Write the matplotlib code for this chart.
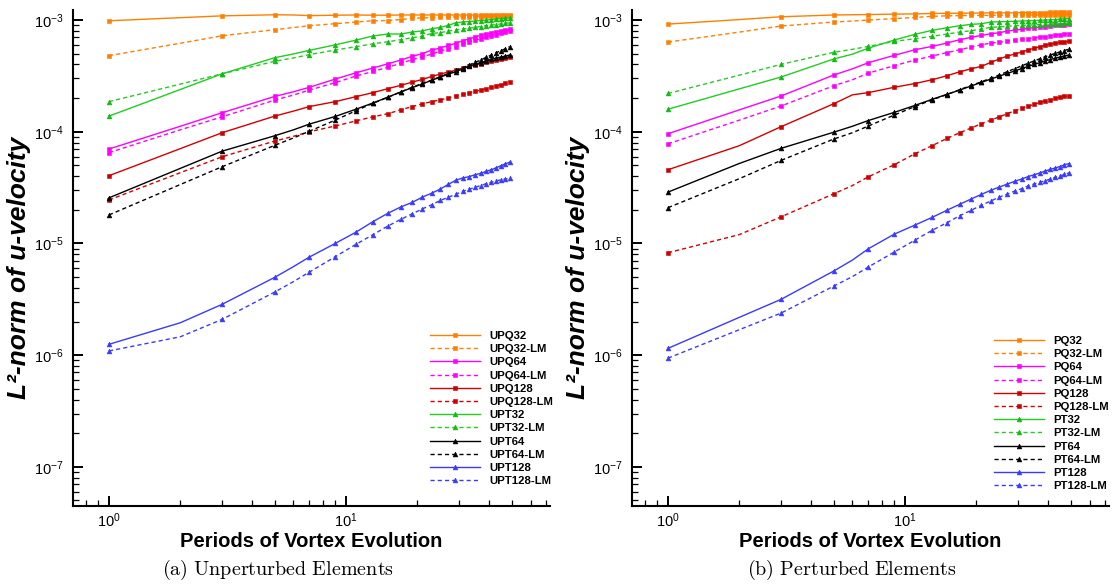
import numpy as np
import matplotlib
matplotlib.use("Agg")
import matplotlib.pyplot as plt
from matplotlib.ticker import LogLocator, NullFormatter

plt.rcParams["font.family"] = ["Liberation Sans", "DejaVu Sans"]
plt.rcParams["mathtext.fontset"] = "custom"
plt.rcParams["mathtext.rm"] = "Liberation Sans"
plt.rcParams["mathtext.it"] = "Liberation Sans:italic"
plt.rcParams["mathtext.bf"] = "Liberation Sans:bold"
plt.rcParams["axes.unicode_minus"] = False

# --------------------------------------------
# Data
# --------------------------------------------
periods = [1, 2, 3, 5, 6, 7, 9, 11, 13, 15, 17, 19, 21, 23, 25, 27, 29, 31,
           33, 35, 37, 39, 41, 43, 45, 47, 49]

# (a) unperturbed elements
unpert_names = ["UPQ32", "UPQ32-LM", "UPQ64", "UPQ64-LM", "UPQ128", "UPQ128-LM",
                "UPT32", "UPT32-LM", "UPT64", "UPT64-LM", "UPT128", "UPT128-LM"]
upq32 = np.array([9.85, 10.5, 10.9, 11.15, 11.1, 10.95, 11.05, 11.1, 11.05, 11.05, 11.1, 11.1, 11.1, 11.1,
                  11.1, 11.1, 11.1, 11.1, 11.1, 11.1, 11.1, 11.1, 11.1, 11.15, 11.15, 11.15, 11.15]) * 1e-4
upq32_lm = np.array([4.8, 6.2, 7.23, 8.2, 8.57, 8.89, 9.27, 9.6, 9.85, 9.9, 10.1, 10.35, 10.45, 10.5,
                     10.55, 10.6, 10.65, 10.7, 10.7, 10.75, 10.75, 10.8, 10.8, 10.85, 10.85, 10.85, 10.9]) * 1e-4
upq64 = np.array([0.70, 1.12, 1.48, 2.07, 2.28, 2.5, 2.96, 3.37, 3.72, 4.06, 4.38, 4.73, 5.0, 5.39,
                  5.62, 5.93, 6.18, 6.53, 6.76, 7.04, 7.29, 7.49, 7.7, 7.86, 8.02, 8.14, 8.26]) * 1e-4
upq64_lm = np.array([0.65, 1.04, 1.36, 1.92, 2.13, 2.36, 2.75, 3.15, 3.47, 3.77, 4.1, 4.41, 4.7, 4.96,
                     5.27, 5.53, 5.77, 6.06, 6.31, 6.58, 6.8, 7.04, 7.23, 7.39, 7.6, 7.76, 7.92]) * 1e-4
upq128 = np.array([0.404, 0.706, 0.98, 1.38, 1.53, 1.68, 1.86, 2.06, 2.24, 2.43, 2.6, 2.78, 2.94, 3.13,
                   3.28, 3.43, 3.55, 3.72, 3.85, 3.95, 4.06, 4.18, 4.27, 4.38, 4.48, 4.57, 4.66]) * 1e-4
upq128_lm = np.array([0.245, 0.43, 0.597, 0.825, 0.91, 1.0, 1.125, 1.25, 1.36, 1.45, 1.57, 1.68, 1.78, 1.86,
                      1.93, 2.0, 2.1, 2.16, 2.24, 2.3, 2.36, 2.43, 2.5, 2.58, 2.64, 2.72, 2.78]) * 1e-4
upt32 = np.array([1.38, 2.39, 3.3, 4.6, 4.97, 5.35, 6.0, 6.6, 7.2, 7.5, 7.5, 7.8, 8.0, 8.36,
                  8.6, 8.96, 9.45, 9.6, 9.7, 9.8, 9.9, 10.0, 10.1, 10.2, 10.3, 10.4, 10.5]) * 1e-4
upt32_lm = np.array([1.86, 2.67, 3.3, 4.27, 4.58, 4.9, 5.39, 5.77, 6.13, 6.39, 6.67, 6.94, 7.19, 7.6,
                     7.7, 7.97, 8.14, 8.3, 8.45, 8.6, 8.75, 8.9, 9.0, 9.1, 9.25, 9.35, 9.45]) * 1e-4
upt64 = np.array([0.256, 0.47, 0.67, 0.92, 1.04, 1.17, 1.37, 1.59, 1.81, 2.04, 2.27, 2.48, 2.68, 2.89,
                  3.09, 3.28, 3.44, 3.64, 3.85, 4.03, 4.15, 4.3, 4.44, 4.57, 4.66, 4.76, 4.86]) * 1e-4
upt64_lm = np.array([0.18, 0.337, 0.486, 0.755, 0.88, 1.01, 1.27, 1.54, 1.8, 2.03, 2.27, 2.5, 2.71, 2.9,
                     3.11, 3.33, 3.55, 3.74, 3.95, 4.18, 4.38, 4.64, 4.86, 5.1, 5.31, 5.53, 5.77]) * 1e-4
upt128 = np.array([0.125, 0.195, 0.285, 0.497, 0.62, 0.755, 1.0, 1.26, 1.57, 1.86, 2.12, 2.33, 2.6, 2.82,
                   3.07, 3.38, 3.67, 3.85, 3.96, 4.12, 4.24, 4.42, 4.57, 4.76, 4.96, 5.17, 5.32]) * 1e-5
upt128_lm = np.array([0.109, 0.146, 0.209, 0.367, 0.455, 0.554, 0.76, 0.98, 1.2, 1.43, 1.64, 1.84, 2.04, 2.22,
                      2.43, 2.59, 2.75, 2.93, 3.05, 3.18, 3.3, 3.43, 3.52, 3.62, 3.72, 3.77, 3.83]) * 1e-5

# (b) perturbed elements
pert_names = ["PQ32", "PQ32-LM", "PQ64", "PQ64-LM", "PQ128", "PQ128-LM",
              "PT32", "PT32-LM", "PT64", "PT64-LM", "PT128", "PT128-LM"]
pq32 = np.array([9.2, 10.1, 10.7, 11.1, 11.15, 11.2, 11.3, 11.35, 11.45, 11.5, 11.5, 11.55, 11.55, 11.6,
                 11.6, 11.6, 11.6, 11.65, 11.65, 11.65, 11.65, 11.65, 11.7, 11.7, 11.7, 11.7, 11.7]) * 1e-4
pq32_lm = np.array([6.35, 7.8, 8.84, 9.6, 9.8, 10.0, 10.3, 10.55, 10.8, 10.9, 10.95, 11.0, 11.0, 11.0,
                    11.05, 11.05, 11.05, 11.1, 11.1, 11.1, 11.1, 11.1, 11.1, 11.15, 11.15, 11.15, 11.15]) * 1e-4
pq64 = np.array([0.96, 1.57, 2.09, 3.22, 3.66, 4.15, 4.83, 5.42, 5.81, 6.22, 6.67, 7.0, 7.29, 7.54,
                 7.7, 7.97, 8.14, 8.26, 8.43, 8.55, 8.65, 8.75, 8.85, 8.95, 9.0, 9.1, 9.15]) * 1e-4
pq64_lm = np.array([0.78, 1.27, 1.7, 2.58, 2.92, 3.35, 3.9, 4.38, 4.76, 5.1, 5.42, 5.73, 6.0, 6.22,
                    6.31, 6.49, 6.62, 6.72, 6.82, 6.92, 7.02, 7.12, 7.22, 7.32, 7.42, 7.5, 7.57]) * 1e-4
pq128 = np.array([0.457, 0.75, 1.11, 1.78, 2.14, 2.24, 2.5, 2.7, 2.92, 3.17, 3.44, 3.66, 3.85, 4.18,
                  4.48, 4.76, 4.96, 5.17, 5.39, 5.58, 5.77, 5.93, 6.1, 6.18, 6.31, 6.4, 6.44]) * 1e-4
pq128_lm = np.array([0.825, 1.2, 1.73, 2.78, 3.3, 3.95, 5.06, 6.35, 7.5, 8.7, 9.8, 10.8, 11.8, 12.7,
                     13.6, 14.5, 15.4, 16.2, 16.9, 17.6, 18.3, 18.8, 19.3, 19.9, 20.3, 20.7, 20.9]) * 1e-5
pt32 = np.array([1.59, 2.42, 3.09, 4.48, 4.95, 5.6, 6.62, 7.45, 8.08, 8.53, 8.89, 9.15, 9.27, 9.6,
                 9.65, 9.7, 9.75, 9.8, 9.85, 9.9, 9.95, 10.0, 10.05, 10.1, 10.2, 10.25, 10.3]) * 1e-4
pt32_lm = np.array([2.2, 3.21, 4.01, 5.14, 5.47, 5.81, 6.44, 6.8, 7.14, 7.49, 7.81, 8.02, 8.3, 8.6,
                    8.7, 8.8, 8.9, 8.95, 9.0, 9.05, 9.1, 9.15, 9.2, 9.25, 9.3, 9.35, 9.4]) * 1e-4
pt64 = np.array([0.288, 0.52, 0.71, 0.99, 1.12, 1.26, 1.49, 1.72, 1.95, 2.16, 2.36, 2.57, 2.77, 2.96,
                 3.15, 3.33, 3.5, 3.67, 3.85, 4.0, 4.15, 4.3, 4.43, 4.55, 4.66, 4.76, 4.86]) * 1e-4
pt64_lm = np.array([0.209, 0.38, 0.554, 0.86, 0.98, 1.125, 1.41, 1.68, 1.93, 2.15, 2.38, 2.6, 2.8, 3.02,
                    3.23, 3.45, 3.67, 3.88, 4.1, 4.3, 4.5, 4.7, 4.87, 5.03, 5.18, 5.33, 5.48]) * 1e-4
pt128 = np.array([0.115, 0.218, 0.316, 0.566, 0.71, 0.896, 1.21, 1.46, 1.71, 1.98, 2.24, 2.5, 2.75, 2.99,
                  3.2, 3.4, 3.6, 3.77, 3.96, 4.12, 4.27, 4.45, 4.6, 4.74, 4.88, 5.06, 5.18]) * 1e-5
pt128_lm = np.array([0.094, 0.169, 0.238, 0.415, 0.505, 0.615, 0.837, 1.07, 1.31, 1.53, 1.77, 1.98, 2.2, 2.4,
                     2.6, 2.77, 2.94, 3.09, 3.27, 3.4, 3.52, 3.64, 3.77, 3.9, 4.01, 4.15, 4.27]) * 1e-5

unpert_series = [upq32, upq32_lm, upq64, upq64_lm, upq128, upq128_lm,
                 upt32, upt32_lm, upt64, upt64_lm, upt128, upt128_lm]
pert_series = [pq32, pq32_lm, pq64, pq64_lm, pq128, pq128_lm,
               pt32, pt32_lm, pt64, pt64_lm, pt128, pt128_lm]

# --------------------------------------------
# Styles: (line colour, marker colour, marker)
# --------------------------------------------
ORANGE = "#ff7f00"
MAGENTA = "#ff00ff"
RED = "#d40000"
GREEN = "#22cc22"
BLACK = "#000000"
BLUE = "#3a3aff"
styles = [
    (ORANGE, ORANGE, "s"), (ORANGE, ORANGE, "s"),
    (MAGENTA, MAGENTA, "s"), (MAGENTA, MAGENTA, "s"),
    (RED, "#cc0000", "s"), (RED, "#cc0000", "s"),
    (GREEN, "#11bb11", "^"), (GREEN, "#11bb11", "^"),
    (BLACK, BLACK, "^"), (BLACK, BLACK, "^"),
    (BLUE, BLUE, "^"), (BLUE, BLUE, "^"),
]
mark_idx = [i for i, p in enumerate(periods) if p % 2 == 1]

W, H = 1115, 586


def draw_panel(ax, names, series, legend_xy):
    for name, vals, (lc, mc, mk) in zip(names, series, styles):
        ms = 3.3 if mk == "s" else 3.5
        line, = ax.plot(periods, vals, color=lc, lw=1.0, marker=mk, ms=ms,
                        mfc=mc, mec=mc, mew=0.4, markevery=mark_idx, label=name)
        if name.endswith("-LM"):
            line.set_dashes((3.0, 2.2))

    ax.set_xscale("log")
    ax.set_yscale("log")
    ax.set_xlim(0.705, 72.5)
    ax.set_ylim(4.46e-8, 1.23e-3)

    for side in ("top", "right"):
        ax.spines[side].set_visible(False)
    for side in ("left", "bottom"):
        ax.spines[side].set_linewidth(1.5)

    ax.yaxis.set_minor_locator(LogLocator(base=10, subs=np.arange(2, 10), numticks=20))
    ax.yaxis.set_minor_formatter(NullFormatter())
    ax.xaxis.set_minor_locator(LogLocator(base=10, subs=np.arange(2, 10), numticks=20))
    ax.xaxis.set_minor_formatter(NullFormatter())
    ax.tick_params(which="major", direction="in", length=7.5, width=1.4, labelsize=10.5)
    ax.tick_params(which="minor", direction="in", length=4.5, width=0.9)
    ax.tick_params(axis="y", which="major", pad=7)
    ax.tick_params(axis="x", which="major", pad=4)

    ax.set_xlabel("Periods of Vortex Evolution", fontsize=14.5, fontweight="bold")
    ax.set_ylabel("L²-norm of u-velocity", fontsize=19, fontweight="bold", fontstyle="italic")
    ax.yaxis.set_label_coords(-0.088, 0.48)
    ax.xaxis.set_label_coords(0.5, -0.052)

    ax.legend(loc="upper left", bbox_to_anchor=legend_xy, bbox_transform=ax.figure.transFigure,
              frameon=False, prop={"weight": "bold", "size": 8.2}, handlelength=4.4,
              handletextpad=0.8, labelspacing=0.28, borderpad=0, borderaxespad=0,
              numpoints=1)


fig = plt.figure(figsize=(W / 100, H / 100), dpi=100)
ax_a = fig.add_axes([73 / W, 80 / H, 477 / W, 496 / H])
ax_b = fig.add_axes([632 / W, 80 / H, 477 / W, 496 / H])

draw_panel(ax_a, unpert_names, unpert_series, (430 / W, 1 - 331 / H))
draw_panel(ax_b, pert_names, pert_series, (994 / W, 1 - 336 / H))

fig.text(278 / W, 1 - 570 / H, r"$\mathrm{(a)\ Unperturbed\ Elements}$",
         math_fontfamily="cm", ha="center", va="center", fontsize=14.5)
fig.text(852 / W, 1 - 570 / H, r"$\mathrm{(b)\ Perturbed\ Elements}$",
         math_fontfamily="cm", ha="center", va="center", fontsize=14.5)

fig.savefig("out.png", dpi=100)
